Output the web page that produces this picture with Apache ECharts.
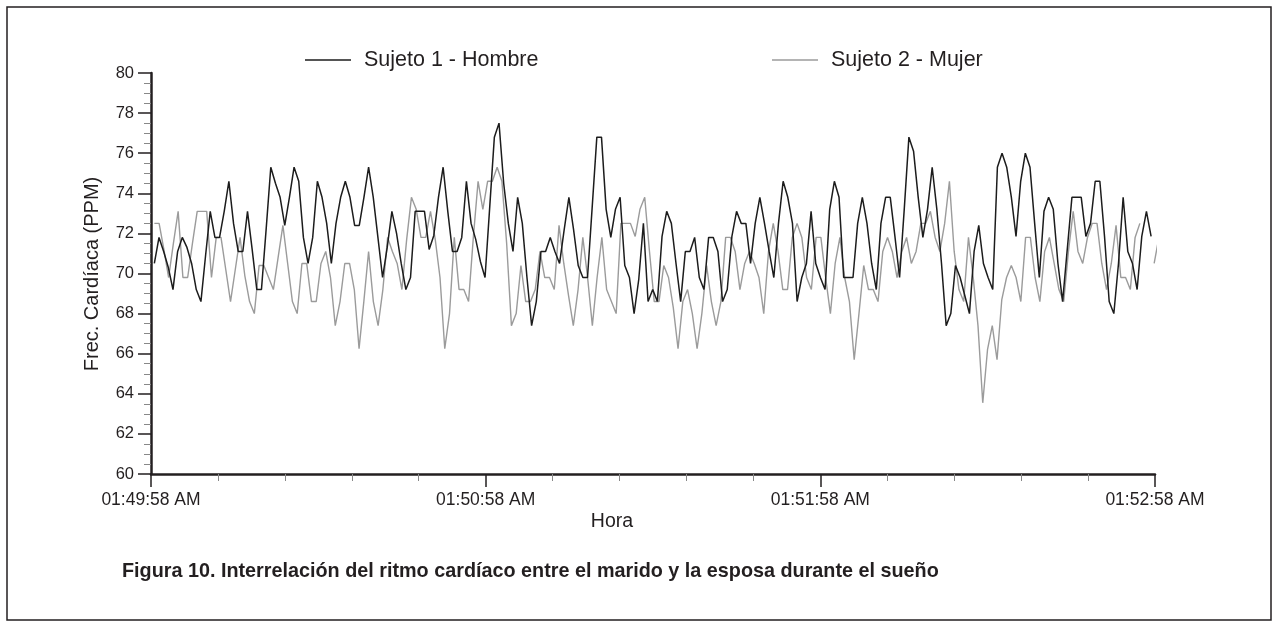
<!DOCTYPE html>
<html>
<head>
<meta charset="utf-8">
<script src="https://cdn.jsdelivr.net/npm/echarts@6/dist/echarts.min.js"></script>
<style>
html,body{margin:0;padding:0;background:#fff;}
#chart{width:1278px;height:628px;}
</style>
</head>
<body>
<div id="chart"></div>
<script>
// ---- DATA ----
const seriesNames = ['Sujeto 1 - Hombre', 'Sujeto 2 - Mujer'];
const xTickLabels = ['01:49:58 AM', '01:50:58 AM', '01:51:58 AM', '01:52:58 AM'];
const yAxisName = 'Frec. Cardíaca (PPM)';
const xAxisName = 'Hora';
const figureTitle = 'Figura 10. Interrelación del ritmo cardíaco entre el marido y la esposa durante el sueño';

// beat-by-beat heart rate (PPM)
const hombre = [
  70.5,71.8,71.1,70.3,69.2,71.1,71.8,71.3,70.5,69.2,
  68.6,70.9,73.1,71.8,71.8,73.1,74.6,72.5,71.1,71.1,
  73.1,71.2,69.2,69.2,72.2,75.3,74.5,73.8,72.4,73.8,
  75.3,74.6,71.8,70.5,71.8,74.6,73.8,72.5,70.5,72.5,
  73.8,74.6,73.8,72.4,72.4,73.8,75.3,73.8,71.8,69.8,
  71.3,73.1,72.0,70.5,69.2,69.8,73.1,73.1,73.1,71.2,
  71.9,73.8,75.3,73.1,71.1,71.1,71.8,74.6,72.5,71.7,
  70.6,69.8,73.3,76.8,77.5,74.5,72.5,71.1,73.8,72.5,
  69.8,67.4,68.6,71.1,71.1,71.8,71.1,70.5,72.2,73.8,
  72.2,70.4,69.8,69.8,73.3,76.8,76.8,73.2,71.8,73.2,
  73.8,70.4,69.8,68.0,69.7,72.5,68.6,69.2,68.6,71.85,
  73.1,72.5,70.5,68.6,71.1,71.1,71.8,69.8,69.2,71.8,
  71.8,71.1,68.6,69.2,71.85,73.1,72.5,72.5,70.5,72.5,
  73.8,72.5,71.1,69.8,72.5,74.6,73.8,72.5,68.6,69.8,
  70.5,73.1,70.5,69.8,69.2,73.2,74.6,73.8,69.8,69.8,
  69.8,72.5,73.8,72.5,70.5,69.2,72.5,73.8,73.8,71.85,
  69.8,73.2,76.8,76.1,73.8,71.8,73.2,75.3,73.2,70.5,
  67.4,68.0,70.4,69.8,68.9,68.0,71.1,72.4,70.5,69.8,
  69.2,75.3,76.0,75.3,73.8,71.85,74.6,76.0,75.3,72.5,
  69.8,73.1,73.8,73.2,70.5,68.6,71.2,73.8,73.8,73.8,
  71.85,72.5,74.6,74.6,71.85,68.6,68.0,70.5,73.8,71.1,
  70.5,69.2,71.85,73.1,71.85
];
const mujer = [
  72.5,72.5,71.2,69.8,71.5,73.1,69.8,69.8,71.5,73.1,
  73.1,73.1,69.8,71.8,71.8,70.2,68.6,70.2,71.8,69.9,
  68.6,68.0,70.4,70.4,69.8,69.2,70.8,72.4,70.5,68.6,
  68.0,70.5,70.5,68.6,68.6,70.5,71.1,69.8,67.4,68.6,
  70.5,70.5,69.2,66.25,68.6,71.1,68.6,67.4,69.2,71.8,
  71.1,70.5,69.2,71.7,73.8,73.2,71.8,71.8,73.1,71.7,
  69.8,66.25,68.0,71.8,69.2,69.2,68.6,71.8,74.6,73.2,
  74.6,74.6,75.3,74.6,71.5,67.4,68.0,70.4,68.6,68.6,
  69.2,71.1,69.8,69.8,69.2,72.4,70.5,68.9,67.4,69.2,
  71.8,69.8,67.4,69.8,71.8,69.2,68.6,68.0,72.5,72.5,
  72.5,71.85,73.2,73.8,71.1,68.6,68.6,70.4,69.8,68.3,
  66.25,68.6,69.2,68.0,66.25,68.0,70.4,68.6,67.4,68.6,
  71.8,71.8,71.1,69.2,70.5,71.1,70.5,69.8,68.0,71.1,
  72.5,71.1,69.2,69.2,71.8,72.5,71.8,69.8,69.2,71.8,
  71.8,69.8,68.0,70.5,71.8,69.8,68.6,65.7,68.0,70.4,
  69.2,69.2,68.6,71.1,71.8,71.1,69.8,71.1,71.8,70.5,
  71.1,72.5,72.5,73.1,71.8,71.1,72.5,74.6,71.1,69.2,
  68.6,71.8,69.8,67.4,63.55,66.2,67.4,65.7,68.7,69.8,
  70.4,69.8,68.6,71.8,71.8,69.8,68.6,71.1,71.8,70.5,
  69.2,68.6,71.1,73.1,71.1,70.5,71.8,72.5,72.5,70.5,
  69.2,70.5,72.4,69.8,69.8,69.2,71.8,72.5,null,null,
  70.5,71.8
];
// time span (seconds after 01:49:58) covered by each beat sequence
const hombreSpan = [0.6, 179.3];
const mujerSpan = [0.6, 180.7];

// ---- BUILD ----
function toPoints(vals, span) {
  const step = (span[1] - span[0]) / (vals.length - 1);
  return vals.map((v, i) => [span[0] + i * step, v]);
}
const FONT = '"Liberation Sans", Arial, Helvetica, sans-serif';
const INK = '#231f20';
const legendBase = {
  top: 49, padding: 0, itemWidth: 46, itemHeight: 1.5, icon: 'rect',
  textStyle: {fontFamily: FONT, fontSize: 21.5, color: INK, padding: [0, 0, 0, 8]}
};

const chart = echarts.init(document.getElementById('chart'), null, {renderer: 'canvas'});
chart.setOption({
  animation: false,
  backgroundColor: '#ffffff',
  textStyle: {fontFamily: FONT, color: INK},
  title: {
    text: figureTitle,
    left: 122, top: 562, padding: 0,
    textStyle: {fontFamily: FONT, fontSize: 19.8, fontWeight: 'bold', color: INK}
  },
  legend: [
    Object.assign({data: [seriesNames[0]], left: 305}, legendBase),
    Object.assign({data: [seriesNames[1]], left: 772}, legendBase)
  ],
  grid: {left: 151, top: 73, width: 1004, height: 401},
  xAxis: {
    type: 'value', min: 0, max: 180, interval: 60,
    axisLine: {lineStyle: {color: INK, width: 2.5}},
    axisTick: {length: 13, lineStyle: {color: INK, width: 1.5}},
    minorTick: {show: true, splitNumber: 5, length: 7, lineStyle: {color: '#888', width: 1}},
    splitLine: {show: false},
    axisLabel: {formatter: v => xTickLabels[Math.round(v / 60)], fontSize: 17.5, color: INK, margin: 17, fontFamily: FONT}
  },
  yAxis: {
    type: 'value', min: 60, max: 80, interval: 2,
    axisLine: {show: true, lineStyle: {color: INK, width: 2.5}},
    axisTick: {show: true, length: 13, lineStyle: {color: INK, width: 1.5}},
    minorTick: {show: true, splitNumber: 4, length: 7, lineStyle: {color: '#888', width: 1}},
    splitLine: {show: false},
    axisLabel: {fontSize: 16.5, color: INK, margin: 17, fontFamily: FONT}
  },
  graphic: [
    {type: 'rect', silent: true, shape: {x: 7, y: 7, width: 1264, height: 613},
     style: {fill: 'none', stroke: INK, lineWidth: 1.5}},
    {type: 'text', silent: true, x: 92, y: 274, rotation: Math.PI / 2,
     style: {text: yAxisName, fontFamily: FONT, fontSize: 20, fill: INK, align: 'center', verticalAlign: 'middle'}},
    {type: 'text', silent: true, x: 612, y: 522,
     style: {text: xAxisName, fontFamily: FONT, fontSize: 19.5, fill: INK, align: 'center', verticalAlign: 'middle'}}
  ],
  series: [
    {name: seriesNames[1], type: 'line', data: toPoints(mujer, mujerSpan), symbol: 'none',
     clip: false, connectNulls: false,
     lineStyle: {color: '#9b9b9b', width: 1.4}, itemStyle: {color: '#9b9b9b'}},
    {name: seriesNames[0], type: 'line', data: toPoints(hombre, hombreSpan), symbol: 'none',
     lineStyle: {color: '#1c1c1c', width: 1.5}, itemStyle: {color: '#1c1c1c'}}
  ]
});
</script>
</body>
</html>
